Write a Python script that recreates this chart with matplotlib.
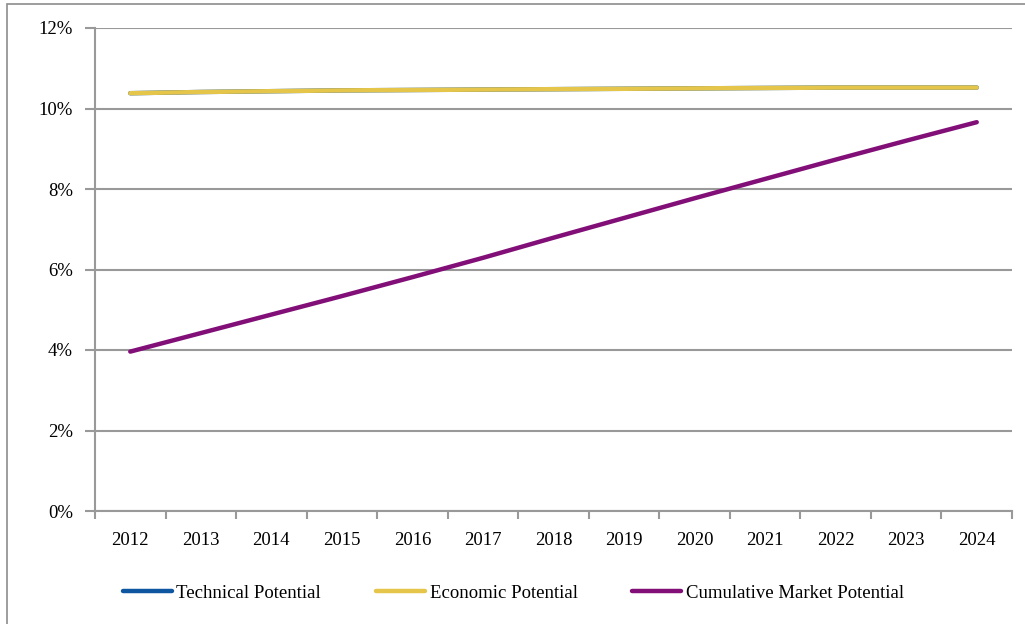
import matplotlib
matplotlib.use("Agg")
import matplotlib.pyplot as plt
from matplotlib.patches import Rectangle
from matplotlib.ticker import FixedLocator, NullFormatter, FixedFormatter

years = ["2012", "2013", "2014", "2015", "2016", "2017", "2018",
         "2019", "2020", "2021", "2022", "2023", "2024"]
technical = [10.38, 10.41, 10.43, 10.45, 10.46, 10.47, 10.48,
             10.49, 10.50, 10.51, 10.52, 10.52, 10.52]
economic = [10.38, 10.41, 10.43, 10.45, 10.46, 10.47, 10.48,
            10.49, 10.50, 10.51, 10.52, 10.52, 10.52]
market = [3.96, 4.42, 4.88, 5.34, 5.81, 6.29, 6.79,
          7.28, 7.77, 8.25, 8.73, 9.20, 9.66]
series_names = ["Technical Potential", "Economic Potential", "Cumulative Market Potential"]
colors = ["#0F56A0", "#E5C64A", "#820F78"]
yticks = [0, 2, 4, 6, 8, 10, 12]

plt.rcParams['font.family'] = ['Liberation Serif', 'DejaVu Serif']
W, H = 1025, 624
fig = plt.figure(figsize=(W / 100, H / 100), dpi=100)
fig.patch.set_facecolor("white")

# outer frame
fig.add_artist(Rectangle((7 / W, -0.1), 1.2, 1 - 4 / H + 0.1, transform=fig.transFigure,
                         fill=False, edgecolor="#8c8c8c", linewidth=1.2))

ax = fig.add_axes([95 / W, 1 - 511 / H, (1012 - 95) / W, (511 - 28) / H])
x = list(range(len(years)))
for vals, name, c in zip([technical, economic, market], series_names, colors):
    ax.plot(x, vals, color=c, linewidth=3.2, solid_capstyle="round", label=name)

ax.set_xlim(-0.5, len(years) - 0.5)
ax.set_ylim(0, 12)
ax.set_yticks(yticks)
ax.set_yticklabels([f"{v}%" for v in yticks])
ax.grid(axis="y", color="#999999", linewidth=1.5)
ax.set_axisbelow(True)

ax.xaxis.set_major_locator(FixedLocator([i - 0.5 for i in range(len(years) + 1)]))
ax.xaxis.set_major_formatter(NullFormatter())
ax.xaxis.set_minor_locator(FixedLocator(x))
ax.xaxis.set_minor_formatter(FixedFormatter(years))
ax.tick_params(axis="x", which="major", length=6, width=1.5, color="#999999")
ax.tick_params(axis="x", which="minor", length=0, pad=15, labelsize=13.5)
ax.tick_params(axis="y", length=7, width=1.5, color="#999999", pad=9, labelsize=13.5)

for s in ["top", "right"]:
    ax.spines[s].set_visible(False)
for s in ["left", "bottom"]:
    ax.spines[s].set_color("#999999")
    ax.spines[s].set_linewidth(1.5)

fig.legend(loc="center", bbox_to_anchor=(0.501, 1 - 593 / H), ncol=3, frameon=False,
           fontsize=13.5, handlelength=2.6, handletextpad=0.25, columnspacing=2.93)

fig.savefig("out.png", dpi=100)
